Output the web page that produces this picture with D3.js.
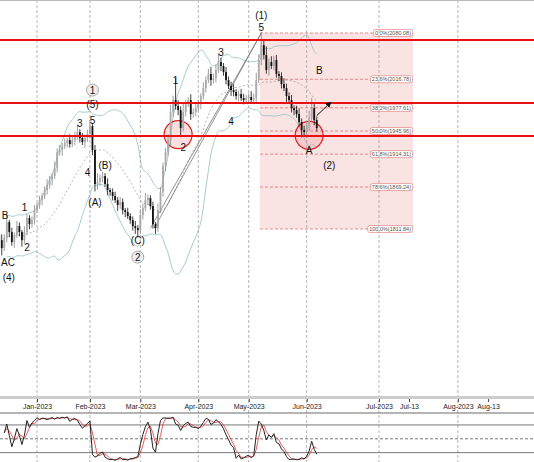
<!DOCTYPE html>
<html><head><meta charset="utf-8">
<script src="https://cdn.jsdelivr.net/npm/d3@7"></script>
<style>body{margin:0;background:#fff}svg{font-family:"Liberation Sans",Arial,sans-serif}</style>
</head><body><div class="container"></div>
<script>
const W = 534, H = 462;
// daily closes from Dec 12 2022 (weekdays)
const closes = [1803.5,1796.6,1785.7,1799.4,1821.3,1807.6,1793.9,1803.5,1815.8,1807.6,1796.6,1807.6,1826.8,1818.5,1824.0,1837.7,1844.6,1851.4,1856.9,1865.1,
1871.9,1878.8,1884.3,1895.2,1917.1,1919.9,1925.4,1929.5,1933.5,1928.1,1933.5,1939.0,1944.5,1936.3,1930.8,1936.3,1941.8,1952.7,1919.9,1873.3,
1876.1,1881.5,1884.3,1873.3,1865.1,1862.4,1856.9,1851.4,1844.6,1848.7,1837.7,1835.0,1829.5,1824.0,1815.8,1813.1,1810.3,1830.9,1840.4,1851.4,
1854.1,1843.2,1818.5,1813.1,1837.7,1862.4,1898.0,1917.1,1933.5,1972.0,1988.3,1980.1,1974.6,1950.0,1971.9,1982.8,1988.3,1969.1,1971.9,1977.3,
1982.8,1993.8,2004.7,2015.7,2023.9,2015.7,2018.4,2029.4,2040.3,2034.9,2026.6,2015.7,2007.5,2002.0,1999.3,1993.8,1996.5,1991.0,1988.3,1991.0,
1992.4,1988.3,1991.0,2015.7,2043.1,2063.6,2049.9,2029.4,2040.3,2034.9,2043.1,2023.9,2021.2,2010.2,2004.7,1993.8,1988.3,1977.3,1974.6,1969.1,
1958.2,1947.2,1944.5,1950.0,1963.7,1977.3,1960.9,1950.0];
const wickHi = [6,4,8,5,10,3,6,4,7,5,3,8,6,4,5,7,3,6,4,5,8,6,4,9,5,7,4,6,3,8,5,6,10,4,7,5,6,8,4,7,
12,5,6,4,8,3,5,6,4,7,5,3,6,4,5,7,4,8,6,10,5,4,6,3,9,7,5,6,8,10,6,30,8,5,12,6,4,8,5,7,
6,4,8,5,7,10,6,8,12,6,4,7,5,6,8,4,5,7,6,4,5,8,6,10,8,18,6,12,5,8,6,7,4,5,8,6,5,7,4,6,
8,5,6,7,10,14,6,5];
const wickLo = [5,8,10,4,6,7,5,8,4,6,9,5,4,7,5,6,4,5,7,4,6,5,7,4,6,5,8,4,6,5,4,7,5,6,4,8,5,6,7,10,
8,5,6,4,7,5,6,4,8,5,6,7,4,5,6,8,10,5,6,4,7,5,6,8,5,4,6,7,5,8,6,5,7,12,5,6,4,8,5,6,
4,7,5,6,4,8,5,6,4,7,5,6,4,8,6,5,7,4,6,5,8,4,6,5,4,7,6,5,8,4,6,5,7,6,4,8,5,6,7,5,
6,10,5,8,4,6,7,5];
const tickLabels = ["Jan-2023","Feb-2023","Mar-2023","Apr-2023","May-2023","Jun-2023","Jul-2023","Jul-13","Aug-2023","Aug-13"];
const tickIdx = [16,37,57,80,100,123,151.7,163.6,183,195];
const gridIdx = [16,37,57,80,100,123,151.7,183];
const fibRatios = [0,0.236,0.382,0.5,0.618,0.786,1];
const fibHigh = 2080.08, fibLow = 1811.84;
const keyLevels = [2070.5,1984.3,1939.1];
const waveLabels = [["B",3.3,1830.9],["AC",4.5,1766.5],["(4)",4.8,1746],["1",11,1841.8],["2",12,1787],["3",33,1956.8],["5",38,1960.9],
 ["(5)",38,1982.8],["4",36,1889.7],["(B)",43,1899.3],["(A)",39,1848.7],["(C)",56,1796.6],["1",71,2015.7],["2",74,1924],
 ["3",89,2054],["4",93,1959.6],["(1)",105,2104.7],["5",105,2088.2],["B",128,2029.4],["A",124,1919.9],["(2)",132,1899.3]];
const circledLabels = [["1",38,2002],["2",56,1773.4]];
const zones = [[72,1941],[124,1940]];

const svg = d3.select('.container').append('svg').attr('width',W).attr('height',H);
const x = d3.scaleLinear().domain([0,1]).range([-3.3,-0.78]);
const y = d3.scaleLinear().domain([fibLow,fibHigh]).range([229,33]);
const MAIN_B = 398;

const bars = closes.map((c,i)=>{
  const o = i ? closes[i-1] : c + 4;
  return {i, o, c, h: Math.max(o,c)+wickHi[i], l: Math.min(o,c)-wickLo[i]};
});

svg.append('clipPath').attr('id','mc').append('rect').attr('width',W).attr('height',MAIN_B);
const g = svg.append('g').attr('clip-path','url(#mc)');

// grid
gridIdx.forEach(d=>{
  svg.append('line').attr('x1',x(d)).attr('x2',x(d)).attr('y1',0).attr('y2',H)
    .attr('stroke','#999').attr('stroke-width',0.7).attr('stroke-dasharray','3,2');
});

// fib box
const bx0 = x(104.5), bx1 = 413;
g.append('rect').attr('x',bx0).attr('y',y(fibHigh)).attr('width',bx1-bx0).attr('height',y(fibLow)-y(fibHigh))
  .attr('fill','#f8dcdc').attr('opacity',0.8);
fibRatios.forEach(r=>{
  const p = fibHigh - r*(fibHigh-fibLow);
  g.append('line').attr('x1',bx0).attr('x2',bx1).attr('y1',y(p)).attr('y2',y(p))
    .attr('stroke','#e06060').attr('stroke-width',0.7).attr('stroke-dasharray','3,2');
  const t = g.append('text').attr('x',bx1-2).attr('y',y(p)+2).attr('text-anchor','end')
    .attr('font-size',5.5).attr('fill','#555').text((r*100).toFixed(1)+'%('+p.toFixed(2)+')');
  const bb = t.node().getBBox();
  g.insert('rect','text:last-child').attr('x',bb.x-1.5).attr('y',bb.y-0.5).attr('width',bb.width+3).attr('height',bb.height+1)
    .attr('rx',2).attr('fill','#fff').attr('stroke','#e07070').attr('stroke-width',0.6);
});

// bollinger (shorter window at the start)
const N = 20, bb = [];
closes.forEach((c,i)=>{
  if(i < 4) return;
  const s = closes.slice(Math.max(0,i-N+1),i+1), m = d3.mean(s), sd = d3.deviation(s)*Math.sqrt((s.length-1)/s.length);
  bb.push({i, m, u:m+2*Math.max(sd,14), d:m-2*Math.max(sd,14)});
});
const ln = k => d3.line().x(d=>x(d.i)).y(d=>y(d[k])).curve(d3.curveMonotoneX);
g.append('path').datum(bb).attr('d',ln('u')).attr('fill','none').attr('stroke','#9cc7c7').attr('stroke-width',0.9);
g.append('path').datum(bb).attr('d',ln('d')).attr('fill','none').attr('stroke','#9cc7c7').attr('stroke-width',0.9);
g.append('path').datum(bb).attr('d',ln('m')).attr('fill','none').attr('stroke','#888').attr('stroke-width',0.6).attr('stroke-dasharray','2,2');

// red zones
zones.forEach(z=>{
  g.append('ellipse').attr('cx',x(z[0])).attr('cy',y(z[1])).attr('rx',14).attr('ry',14)
    .attr('fill','rgba(240,150,150,0.3)').attr('stroke','#e02020').attr('stroke-width',1.2);
});

// trend lines
[0,4].forEach(off=>{
  g.append('line').attr('x1',x(61)+off).attr('y1',y(1813)).attr('x2',x(105)).attr('y2',y(fibHigh))
    .attr('stroke','#777').attr('stroke-width',0.8);
});

// candles
const cg = g.selectAll('.bar').data(bars).enter().append('g');
cg.append('line').attr('x1',d=>x(d.i)).attr('x2',d=>x(d.i)).attr('y1',d=>y(d.h)).attr('y2',d=>y(d.l))
  .attr('stroke',d=>d.c>=d.o?'#888':'#111').attr('stroke-width',0.8);
cg.append('rect').attr('x',d=>x(d.i)-0.9).attr('width',1.8)
  .attr('y',d=>y(Math.max(d.o,d.c))).attr('height',d=>Math.max(0.8,Math.abs(y(d.o)-y(d.c))))
  .attr('fill',d=>d.c>=d.o?'#aaa':'#111');

// key horizontal levels
keyLevels.forEach(p=>{
  svg.append('line').attr('x1',0).attr('x2',W).attr('y1',y(p)).attr('y2',y(p)).attr('stroke','#e81010').attr('stroke-width',2);
});

// arrow
svg.append('defs').append('marker').attr('id','ah').attr('viewBox','0 0 10 10').attr('refX',8).attr('refY',5)
  .attr('markerWidth',6).attr('markerHeight',6).attr('orient','auto')
  .append('path').attr('d','M0,0L10,5L0,10z').attr('fill','#111');
svg.append('line').attr('x1',x(127)).attr('y1',y(1967)).attr('x2',x(132.5)).attr('y2',y(1985))
  .attr('stroke','#111').attr('stroke-width',1).attr('marker-end','url(#ah)');

// labels
waveLabels.forEach(w=>{
  svg.append('text').attr('x',x(w[1])).attr('y',y(w[2])+4).attr('text-anchor','middle')
    .attr('font-size',10).attr('fill','#111').text(w[0]);
});
circledLabels.forEach(w=>{
  svg.append('circle').attr('cx',x(w[1])).attr('cy',y(w[2])).attr('r',6).attr('fill','#eee').attr('stroke','#888').attr('stroke-width',0.7);
  svg.append('text').attr('x',x(w[1])).attr('y',y(w[2])+3.5).attr('text-anchor','middle').attr('font-size',10).attr('fill','#111').text(w[0]);
});

// frame + axis
svg.append('rect').attr('x',0).attr('y',0).attr('width',W).attr('height',1).attr('fill','#bbb');
svg.append('rect').attr('x',0).attr('y',MAIN_B-2).attr('width',W).attr('height',3).attr('fill','#ccc');
const axis = d3.axisBottom(x).tickValues(tickIdx).tickFormat((d,i)=>tickLabels[i]).tickSize(3);
const ax = svg.append('g').attr('transform','translate(0,'+(MAIN_B+1)+')').call(axis);
ax.select('.domain').remove();
ax.selectAll('text').attr('font-size',7).attr('fill','#222').attr('dy','0.6em');
ax.selectAll('line').attr('stroke','#444');

// stochastic panel
const P0 = 413;
const ys = d3.scaleLinear().domain([0,100]).range([461.9,415.7]);
svg.append('line').attr('x1',0).attr('x2',W).attr('y1',P0).attr('y2',P0).attr('stroke','#444').attr('stroke-width',0.8);
[80,20].forEach(v=>svg.append('line').attr('x1',0).attr('x2',W).attr('y1',ys(v)).attr('y2',ys(v)).attr('stroke','#555').attr('stroke-width',0.8));
svg.append('line').attr('x1',0).attr('x2',W).attr('y1',ys(50)).attr('y2',ys(50)).attr('stroke','#555').attr('stroke-width',0.8).attr('stroke-dasharray','3,2');
const K = [];
bars.forEach((b,i)=>{
  if(i<3) return;
  const s = bars.slice(Math.max(0,i-13),i+1), hh = d3.max(s,d=>d.h), ll = d3.min(s,d=>d.l);
  K.push({i, k:100*(b.c-ll)/(hh-ll)});
});
const Kd = K.map((d,j)=>({i:d.i, k:d3.mean(K.slice(Math.max(0,j-2),j+1),e=>e.k)}));
const sl = d3.line().x(d=>x(d.i)).y(d=>ys(d.k));
svg.append('path').datum(Kd).attr('d',sl).attr('fill','none').attr('stroke','#d33').attr('stroke-width',0.8);
svg.append('path').datum(K).attr('d',sl).attr('fill','none').attr('stroke','#222').attr('stroke-width',1);
</script></body></html>
